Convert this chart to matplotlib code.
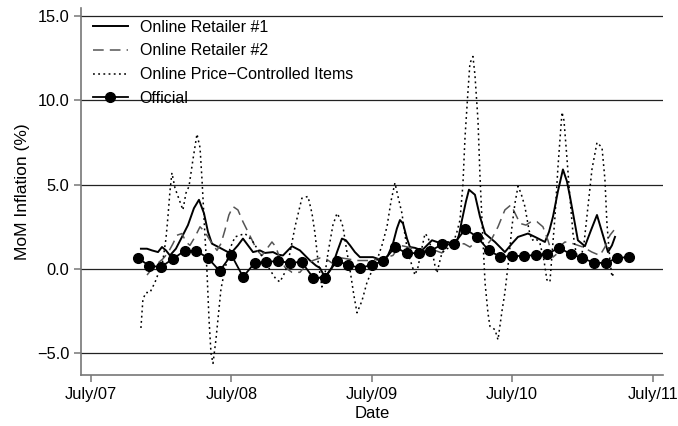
import numpy as np
import matplotlib
matplotlib.use('Agg')
import matplotlib.pyplot as plt

plt.rcParams['font.family'] = ['Liberation Sans', 'DejaVu Sans']

# months since July 2007
r1_t = [4.27, 4.79, 5.21, 5.73, 6.07, 6.41, 6.75, 7.26, 7.78, 8.29, 8.80, 9.23, 9.66, 10.0,
        10.34, 11.03, 11.71, 12.05, 12.56, 12.99, 13.42, 13.85, 14.44, 14.87, 15.56, 15.98,
        16.41, 17.18, 17.86, 18.29, 18.72, 19.23, 19.57, 20.0, 20.6, 21.03, 21.45, 21.79,
        22.14, 22.56, 22.99, 24.1, 24.96, 25.38, 25.81, 26.15, 26.41, 26.67, 27.01, 27.26,
        27.69, 28.29, 29.15, 30.0, 30.51, 31.11, 31.45, 31.71, 32.05, 32.31, 32.82, 33.25,
        33.68, 34.53, 35.38, 35.98, 36.5, 37.35, 37.95, 38.8, 39.15, 39.49, 39.91, 40.34,
        40.68, 40.94, 41.28, 41.62, 42.22, 42.74, 43.25, 43.76, 44.19, 44.53, 44.79]
r1_v = [1.2, 1.2, 1.1, 1.0, 1.3, 1.1, 0.8, 1.2, 1.9, 2.6, 3.6, 4.1, 3.3, 2.2,
        1.5, 1.25, 1.0, 1.0, 1.4, 1.8, 1.4, 1.0, 1.1, 0.95, 1.0, 0.85,
        0.8, 1.35, 1.1, 0.8, 0.5, 0.2, 0.06, -0.5, 0.1, 1.0, 1.8, 1.7,
        1.4, 1.0, 0.7, 0.7, 0.5, 0.8, 1.5, 2.4, 2.9, 2.7, 1.8, 1.3,
        1.25, 1.1, 1.7, 1.5, 1.6, 1.4, 2.0, 2.9, 4.0, 4.7, 4.4, 3.1,
        2.1, 1.6, 1.0, 1.5, 1.9, 2.1, 1.9, 1.6, 2.2, 3.1, 4.6, 5.9,
        5.2, 4.3, 3.0, 1.7, 1.35, 2.3, 3.2, 2.0, 1.0, 1.4, 1.9]

r2_t = [4.79, 5.21, 5.73, 6.15, 6.58, 7.01, 7.35, 7.78, 8.12, 8.46, 8.89, 9.32, 9.74, 10.17,
        10.77, 11.11, 11.45, 11.79, 12.14, 12.56, 12.99, 13.42, 13.85, 14.19, 14.62, 15.04,
        15.47, 15.81, 16.15, 16.58, 17.18, 17.86, 18.46, 18.97, 19.57, 20.09, 20.6, 21.45,
        22.74, 23.85, 24.7, 25.3, 25.81, 26.41, 27.09, 27.95, 28.8, 29.4, 30.0, 30.51,
        31.37, 31.88, 32.39, 32.91, 33.42, 33.93, 34.27, 34.79, 35.38, 35.9, 36.32, 36.67,
        37.18, 37.61, 38.12, 38.63, 39.06, 39.49, 39.83, 40.17, 40.51, 41.2, 42.05, 42.82,
        43.5, 43.93, 44.36, 44.7]
r2_v = [-0.36, 0.0, 0.35, 0.6, 0.95, 1.5, 2.0, 2.1, 1.6, 1.4, 1.9, 2.5, 2.2, 1.7,
        1.1, 1.5, 2.3, 3.2, 3.7, 3.5, 2.8, 2.2, 1.6, 1.1, 0.8, 1.2,
        1.6, 1.3, 0.6, 0.1, -0.2, -0.2, 0.3, 0.5, 0.65, 0.6, 0.35, 0.65,
        0.5, 0.5, 0.6, 0.7, 0.8, 1.4, 1.3, 1.1, 1.1, 1.1, 0.95, 1.5,
        1.4, 1.5, 1.3, 1.6, 1.9, 1.5, 1.8, 2.5, 3.5, 3.8, 3.2, 2.7,
        2.6, 2.8, 2.8, 2.5, 1.7, 0.7, 0.9, 1.4, 1.6, 1.5, 1.3, 1.0,
        0.8, 1.3, 2.0, 2.3]

pc_t = [4.27, 4.44, 4.70, 5.04, 5.47, 5.90, 6.15, 6.41, 6.58, 6.75, 6.92, 7.18, 7.44, 7.86,
        8.12, 8.38, 8.72, 9.06, 9.32, 9.49, 9.74, 9.91, 10.09, 10.26, 10.43, 10.68, 10.85,
        11.11, 11.45, 11.88, 12.31, 12.74, 13.16, 13.76, 14.44, 15.30, 15.81, 16.15, 16.58,
        17.01, 17.44, 18.03, 18.55, 18.89, 19.15, 19.40, 19.74, 20.00, 20.26, 20.68, 21.03,
        21.28, 21.54, 21.88, 22.14, 22.48, 22.74, 23.16, 23.59, 24.02, 24.44, 24.87, 25.30,
        25.64, 25.98, 26.24, 26.58, 26.84, 27.09, 27.44, 27.69, 27.95, 28.21, 28.55, 28.80,
        29.15, 29.40, 29.57, 29.83, 30.00, 30.43, 30.85, 31.28, 31.54, 31.79, 31.97, 32.22,
        32.39, 32.65, 32.82, 33.08, 33.25, 33.42, 33.68, 33.93, 34.10, 34.53, 34.79, 35.13,
        35.38, 35.73, 35.98, 36.24, 36.50, 36.75, 37.09, 37.44, 37.69, 38.03, 38.38, 38.72,
        38.97, 39.23, 39.40, 39.66, 39.91, 40.26, 40.43, 40.68, 40.94, 41.20, 41.45, 41.79,
        42.14, 42.48, 42.82, 43.25, 43.68, 43.93, 44.10, 44.36, 44.53, 44.70]
pc_v = [-3.5, -1.8, -1.4, -1.4, -0.8, 0.0, 0.5, 1.8, 3.1, 4.6, 5.7, 4.8, 4.3, 3.5,
        4.5, 4.9, 6.5, 8.0, 7.2, 5.3, 2.0, -0.06, -3.0, -5.0, -5.6, -4.2, -3.0,
        -1.2, 0.0, 1.2, 1.9, 2.0, 2.1, 1.7, 0.95, -0.06, -0.6, -0.77, -0.2,
        0.95, 2.5, 4.2, 4.3, 3.3, 2.1, 0.5, -1.07, -0.3, 0.95, 2.6, 3.3,
        3.0, 2.5, 1.0, -0.06, -1.6, -2.6, -1.9, -0.8, -0.1, 0.5, 1.4, 2.5,
        4.0, 5.1, 4.3, 3.3, 2.0, 0.95, 0.2, -0.36, 0.1, 1.0, 2.1, 1.9,
        1.1, 0.2, -0.24, 0.5, 0.95, 1.2, 1.3, 2.2, 2.9, 5.0, 7.8, 10.5,
        12.2, 12.6, 11.5, 8.8, 5.5, 2.9, -0.8, -2.6, -3.4, -3.6, -4.2, -2.5,
        -1.4, 0.7, 2.5, 3.9, 4.9, 4.5, 3.7, 2.3, 1.7, 1.8, 1.5, 0.5,
        -0.65, -0.77, 0.8, 3.1, 6.0, 9.3, 8.8, 6.6, 4.2, 2.1, 1.0, 0.36,
        1.5, 3.7, 5.9, 7.5, 7.2, 5.3, 2.7, 0.5, -0.47, -0.2]

# official: monthly, Nov 2007 .. May 2011
off_t = list(range(4, 47))
off_v = [0.65, 0.18, 0.12, 0.6, 1.07, 1.07, 0.65, -0.12, 0.83, -0.47, 0.36, 0.42, 0.47, 0.36,
         0.42, -0.53, -0.53, 0.47, 0.24, 0.06, 0.24, 0.47, 1.3, 0.92, 0.95, 1.07, 1.45, 1.45,
         2.37, 1.9, 1.1, 0.71, 0.77, 0.77, 0.83, 0.89, 1.25, 0.89, 0.65, 0.36, 0.36, 0.65, 0.71]

xtick_pos = [0, 12, 24, 36, 48]
xtick_labels = ['July/07', 'July/08', 'July/09', 'July/10', 'July/11']
ytick_pos = [-5, 0, 5, 10, 15]

fig = plt.figure(figsize=(6.78, 4.26), dpi=100)
ax = fig.add_axes([0.1195, 0.1197, 0.8585, 0.8613])

ax.plot(r1_t, r1_v, color='black', lw=1.4, label='Online Retailer #1', zorder=3)
ax.plot(r2_t, r2_v, color='#555555', lw=1.1, dashes=(7, 4), label='Online Retailer #2', zorder=3)
ax.plot(pc_t, pc_v, color='black', lw=1.1, dashes=(1.2, 2.2), label='Online Price\u2212Controlled Items', zorder=3)
ax.plot(off_t, off_v, color='black', lw=1.3, marker='o', markersize=7, label='Official', zorder=4)

ax.set_xlim(-0.85, 48.9)
ax.set_ylim(-6.29, 15.47)
ax.set_xticks(xtick_pos)
ax.set_xticklabels(xtick_labels)
ax.set_yticks(ytick_pos)
ax.set_yticklabels(['\u22125.0', '0.0', '5.0', '10.0', '15.0'])

for y in ytick_pos:
    ax.axhline(y, color='#222222', lw=0.9, zorder=1)

for s in ['top', 'right']:
    ax.spines[s].set_visible(False)
for s in ['left', 'bottom']:
    ax.spines[s].set_color('#777777')
    ax.spines[s].set_linewidth(1.2)
ax.tick_params(axis='both', colors='#777777', labelcolor='black', labelsize=11.8, length=5, width=1.1)

ax.set_xlabel('Date', fontsize=12, labelpad=3)
ax.set_ylabel('MoM Inflation (%)', fontsize=12.5, labelpad=5)

ax.legend(loc='upper left', frameon=False, fontsize=11.5, handlelength=2.2, handletextpad=0.75,
          bbox_to_anchor=(0.0, 1.0), labelspacing=0.55, borderaxespad=0.32)

plt.savefig('out.png', dpi=100)
